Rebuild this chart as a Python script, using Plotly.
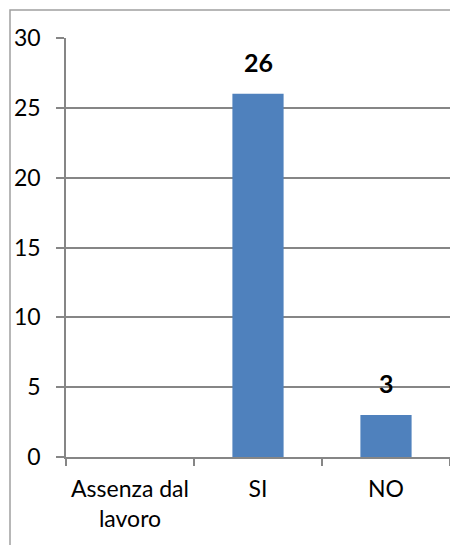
import plotly.graph_objects as go

categories = ["Assenza dal<br>lavoro", "SI", "NO"]
values = [None, 26, 3]
label_texts = ["", "26", "3"]
y_ticks = [0, 5, 10, 15, 20, 25, 30]

FONT = "Lato"
BAR = "#4F81BD"
GRID = "#868686"

W, H = 450, 545
ML, MT, MB = 66, 38, 88
PW = W - ML
PH = H - MT - MB

fig = go.Figure()
fig.add_trace(go.Bar(x=categories, y=values, marker=dict(color=BAR, line=dict(width=0)),
                     width=0.4, hoverinfo="skip"))

for c, v, t in zip(categories, values, label_texts):
    if v is not None:
        fig.add_annotation(x=c, y=v, text="<b>" + t + "</b>", showarrow=False,
                           yanchor="bottom", yshift=15,
                           font=dict(family=FONT, size=25, color="#000000"))

fig.add_shape(type="rect", xref="paper", yref="paper",
              x0=-56 / PW, x1=1.05, y0=-0.3, y1=1 + 28 / PH,
              line=dict(color="#A0A0A0", width=1.5), fillcolor="rgba(0,0,0,0)", layer="below")

fig.update_layout(
    width=W, height=H,
    margin=dict(l=ML, r=0, t=MT, b=MB),
    paper_bgcolor="white", plot_bgcolor="white",
    showlegend=False,
    font=dict(family=FONT, size=23, color="#000000"),
    xaxis=dict(range=[-0.5, 2.5], tickson="boundaries", ticks="outside", ticklen=7,
               tickcolor=GRID, tickwidth=1.5, showline=True, linecolor=GRID, linewidth=2,
               showgrid=False, ticklabelstandoff=10,
               tickfont=dict(family=FONT, size=23), fixedrange=True),
    yaxis=dict(range=[0, 30], tickvals=y_ticks, ticks="outside", ticklen=8,
               tickcolor=GRID, tickwidth=1.5, showline=True, linecolor=GRID, linewidth=1.5,
               showgrid=True, gridcolor=GRID, gridwidth=1.5, zeroline=False,
               ticklabelstandoff=11, tickfont=dict(family=FONT, size=23), fixedrange=True),
)

fig.write_html("out.html", config={"displayModeBar": False},
               post_script="document.body.style.margin='0';document.body.style.overflow='hidden';")
